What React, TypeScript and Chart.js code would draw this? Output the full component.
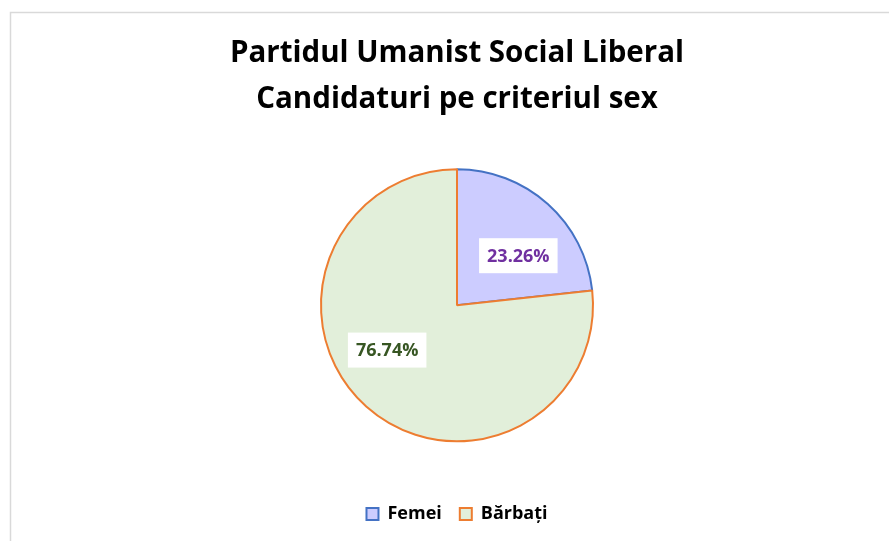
import React, { useEffect, useRef } from "react";
import { Chart, registerables } from "chart.js";

Chart.register(...registerables);

const categories = ["Femei", "Bărbați"];
const values = [23.26, 76.74];
const labelTexts = ["23.26%", "76.74%"];
const titleLines = ["Partidul Umanist Social Liberal", "Candidaturi pe criteriul sex"];

const fillColors = ["#ccccff", "#e2efda"];
const borderColors = ["#4472c4", "#ed7d31"];
const labelColors = ["#7030a0", "#375623"];
// label placement tweaks (angle offset in radians, radial fraction)
const labelAngleOffset = [0.16, 0.27];
const labelRadiusFrac = [0.58, 0.61];

const FONT = "'Open Sans', Lato, sans-serif";

const framePlugin = {
  id: "frame",
  beforeDraw(chart: any) {
    const ctx = chart.ctx;
    ctx.save();
    ctx.fillStyle = "#ffffff";
    ctx.fillRect(0, 0, chart.width, chart.height);
    ctx.strokeStyle = "#d9d9d9";
    ctx.lineWidth = 1.5;
    ctx.strokeRect(10.5, 12.5, chart.width + 20, chart.height + 20);
    ctx.restore();
  },
};

const labelPlugin = {
  id: "sliceLabels",
  afterDatasetsDraw(chart: any) {
    const ctx = chart.ctx;
    const meta = chart.getDatasetMeta(0);
    ctx.save();
    ctx.font = `bold 18px ${FONT}`;
    ctx.textAlign = "center";
    ctx.textBaseline = "middle";
    meta.data.forEach((arc: any, i: number) => {
      const p = arc.getProps(["x", "y", "startAngle", "endAngle", "outerRadius"], true);
      const mid = (p.startAngle + p.endAngle) / 2 + labelAngleOffset[i];
      const r = p.outerRadius * labelRadiusFrac[i];
      const cx = p.x + Math.cos(mid) * r;
      const cy = p.y + Math.sin(mid) * r;
      const text = labelTexts[i];
      const w = ctx.measureText(text).width + 16;
      const h = 35;
      ctx.fillStyle = "#ffffff";
      ctx.fillRect(cx - w / 2, cy - h / 2, w, h);
      ctx.fillStyle = labelColors[i];
      ctx.fillText(text, cx, cy + 1);
    });
    ctx.restore();
  },
};

export default function App() {
  const ref = useRef<HTMLCanvasElement | null>(null);
  useEffect(() => {
    if (!ref.current) return;
    const chart = new Chart(ref.current, {
      type: "pie",
      data: {
        labels: categories,
        datasets: [
          {
            data: values,
            backgroundColor: fillColors,
            borderColor: borderColors,
            borderWidth: 2,
            radius: 136,
          },
        ],
      },
      options: {
        responsive: false,
        animation: false,
        layout: { padding: { top: 0, bottom: 8, left: 25, right: 0 } },
        plugins: {
          tooltip: { enabled: false },
          title: {
            display: true,
            text: titleLines,
            color: "#000000",
            font: { family: FONT, size: 29.5, weight: "bold", lineHeight: 1.57 },
            padding: { top: 30, bottom: 1 },
          },
          legend: {
            position: "bottom",
            labels: {
              color: "#000000",
              font: { family: FONT, size: 18, weight: "bold" },
              boxWidth: 12,
              boxHeight: 12,
              padding: 18,
            },
          },
        },
      },
      plugins: [framePlugin, labelPlugin],
    });
    return () => chart.destroy();
  }, []);
  return (
    <div style={{ position: "fixed", left: 0, top: 0, width: 889, height: 541 }}>
      <canvas ref={ref} width={889} height={541} />
    </div>
  );
}
